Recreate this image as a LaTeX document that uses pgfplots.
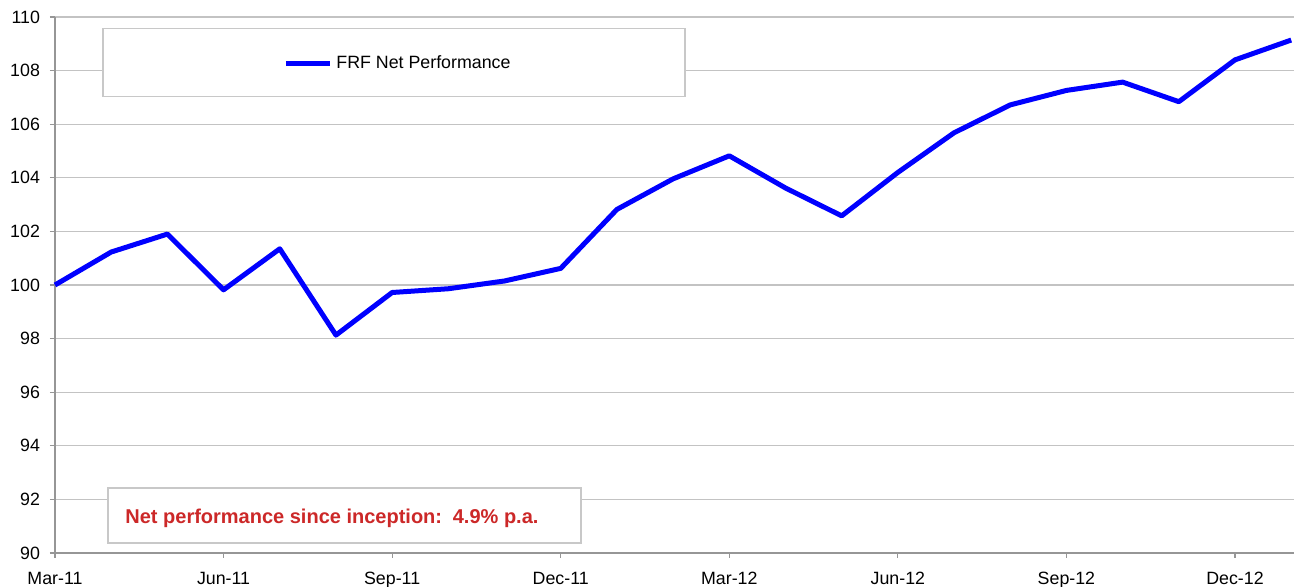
\documentclass[border=0pt]{standalone}
\usepackage{pgfplots}
\pgfplotsset{compat=1.18}
\usepackage{fontspec}
\setmainfont{Liberation Sans}
\definecolor{gridgray}{RGB}{195,195,195}
\definecolor{axgray}{RGB}{150,150,150}
\definecolor{boxgray}{RGB}{200,200,200}
\definecolor{redtxt}{RGB}{204,40,40}
\begin{document}
\begin{tikzpicture}
\path[use as bounding box] (-27.5pt,-17pt) rectangle (619.5pt,276.5pt);
\begin{axis}[
  scale only axis,
  width=619.5pt, height=268pt,
  xmin=0, xmax=22.05,
  ymin=90, ymax=110,
  ytick={90,92,...,110},
  xtick={0,3,...,21},
  xticklabels={Mar-11,Jun-11,Sep-11,Dec-11,Mar-12,Jun-12,Sep-12,Dec-12},
  axis x line*=bottom, axis y line*=left,
  axis line style={axgray, line width=0.6pt, -},
  ymajorgrids, major grid style={gridgray, line width=0.6pt},
  tick align=outside, major tick length=2.5pt,
  tick style={axgray, line width=0.6pt},
  /pgf/number format/assume math mode=true,
  ticklabel style={font=\fontsize{8.9}{10}\selectfont},
  xticklabel style={yshift=-3.5pt},
  yticklabel style={xshift=-1.5pt},
  legend style={at={(rel axis cs:0.2776,0.914)}, anchor=center, draw=none, fill=none,
    font=\fontsize{8.9}{10}\selectfont, inner sep=0pt},
  legend image code/.code={\draw[#1] (0pt,0pt) -- (22pt,0pt);},
  clip=false,
]
\draw[boxgray, line width=0.6pt, fill=white] (rel axis cs:0.0387,0.851) rectangle (rel axis cs:0.5085,0.979);
\draw[boxgray, line width=0.6pt, fill=white] (rel axis cs:0.0428,0.0187) rectangle (rel axis cs:0.4245,0.1213);
\node[anchor=west, text=redtxt, font=\bfseries\fontsize{10}{12}\selectfont, inner sep=0pt] at (rel axis cs:0.0565,0.065) {Net performance since inception:\, 4.9\% p.a.};
\addplot[blue, line width=2.5pt, line join=round] coordinates {
(0,100.0) (1,101.23) (2,101.9) (3,99.82) (4,101.35) (5,98.13) (6,99.72)
(7,99.86) (8,100.15) (9,100.62) (10,102.82) (11,103.96) (12,104.82)
(13,103.62) (14,102.58) (15,104.2) (16,105.68) (17,106.72) (18,107.26)
(19,107.57) (20,106.84) (21,108.4) (22,109.14)
};
\addlegendentry{FRF Net Performance}
\end{axis}
\end{tikzpicture}
\end{document}
